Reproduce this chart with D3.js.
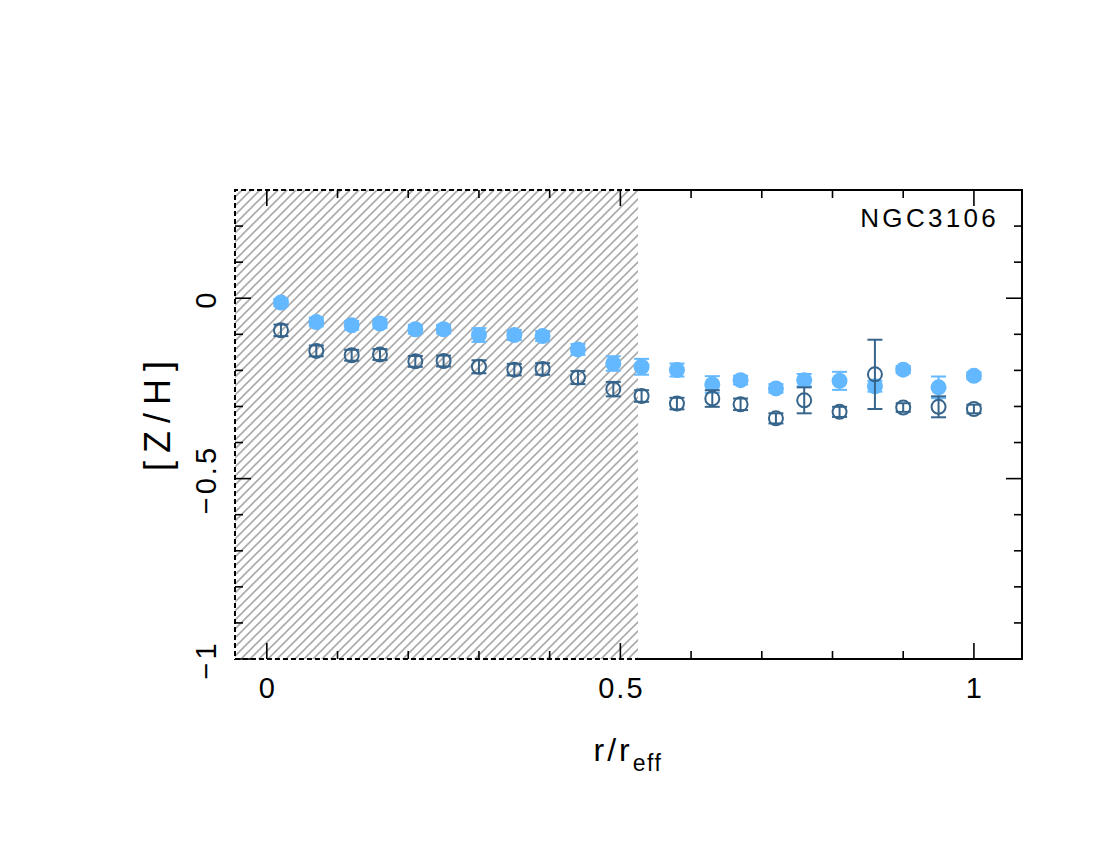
<!DOCTYPE html>
<html>
<head>
<meta charset="utf-8">
<script src="https://cdn.jsdelivr.net/npm/d3@7"></script>
<style>
  html, body { margin: 0; padding: 0; background: #fff; }
  svg { display: block; }
  text { font-family: "Liberation Sans", Arial, sans-serif; fill: #000; }
</style>
</head>
<body>
<svg id="chart" width="1100" height="850"></svg>
<script>
// ---- data ----
const radius = [0.02, 0.07, 0.12, 0.16, 0.21, 0.25, 0.30, 0.35, 0.39, 0.44, 0.49,
                0.53, 0.58, 0.63, 0.67, 0.72, 0.76, 0.81, 0.86, 0.90, 0.95, 1.00];
const zhFilled = [-0.012, -0.066, -0.075, -0.070, -0.086, -0.086, -0.102, -0.102, -0.105, -0.142, -0.181,
                  -0.190, -0.199, -0.239, -0.227, -0.250, -0.227, -0.229, -0.244, -0.198, -0.247, -0.215];
const errFilled = [0.010, 0.012, 0.012, 0.012, 0.012, 0.012, 0.019, 0.014, 0.014, 0.015, 0.020,
                   0.022, 0.018, 0.023, 0.012, 0.012, 0.017, 0.025, 0.015, 0.010, 0.030, 0.010];
const zhOpen = [-0.089, -0.146, -0.158, -0.156, -0.175, -0.174, -0.190, -0.198, -0.196, -0.220, -0.252,
                -0.271, -0.292, -0.278, -0.294, -0.333, -0.283, -0.315, -0.211, -0.303, -0.301, -0.307];
const errOpen = [0.016, 0.015, 0.015, 0.015, 0.015, 0.015, 0.018, 0.016, 0.016, 0.018, 0.020,
                 0.016, 0.016, 0.023, 0.016, 0.014, 0.036, 0.014, 0.096, 0.012, 0.029, 0.012];
const hatchLimit = 0.525;
const xTickLabels = [0, 0.5, 1];
const yTickLabels = [0, -0.5, -1];
const galaxyName = "NGC3106";

// ---- layout ----
const svg = d3.select("#chart");
const L = 235, R = 1022, T = 190, B = 659;
const x = d3.scaleLinear().domain([-0.045, 1.068]).range([L, R]);
const y = d3.scaleLinear().domain([-1, 0.3]).range([B, T]);

const cFilled = "#63b8ff", cOpen = "#36648b";

// hatch pattern
const defs = svg.append("defs");
const pat = defs.append("pattern").attr("id", "hatch").attr("patternUnits", "userSpaceOnUse")
  .attr("width", 9).attr("height", 9);
pat.append("path").attr("d", "M-2,2 L2,-2 M0,9 L9,0 M7,11 L11,7")
  .attr("stroke", "#aaaaaa").attr("stroke-width", 1.6);

// frame (solid part)
const xh = x(hatchLimit);
svg.append("path").attr("d", `M${xh},${T} L${R},${T} L${R},${B} L${xh},${B}`)
  .attr("fill", "none").attr("stroke", "#000").attr("stroke-width", 2);

// hatched region
svg.append("rect").attr("x", L).attr("y", T).attr("width", xh - L).attr("height", B - T)
  .attr("fill", "url(#hatch)");
svg.append("path").attr("d", `M${xh},${T} L${L},${T} L${L},${B} L${xh},${B}`)
  .attr("fill", "none").attr("stroke", "#000").attr("stroke-width", 2)
  .attr("stroke-dasharray", "5,3");

// ticks
const g = svg.append("g").attr("stroke", "#000").attr("stroke-width", 1.6);
const xt = d3.range(0, 11).map(i => i / 10);
xt.forEach(v => {
  const major = Math.abs(v * 2 - Math.round(v * 2)) < 1e-9;
  const len = major ? 16 : 8;
  g.append("line").attr("x1", x(v)).attr("x2", x(v)).attr("y1", B).attr("y2", B - len);
  g.append("line").attr("x1", x(v)).attr("x2", x(v)).attr("y1", T).attr("y2", T + len);
});
const yt = d3.range(-10, 3).map(i => i / 10);
yt.forEach(v => {
  const major = Math.abs(v * 2 - Math.round(v * 2)) < 1e-9;
  const len = major ? 16 : 8;
  g.append("line").attr("y1", y(v)).attr("y2", y(v)).attr("x1", L).attr("x2", L + len);
  g.append("line").attr("y1", y(v)).attr("y2", y(v)).attr("x1", R).attr("x2", R - len);
});

// tick labels
xTickLabels.forEach(v => {
  svg.append("text").attr("x", x(v) + 1).attr("y", 698).attr("text-anchor", "middle")
    .attr("font-size", 29).attr("letter-spacing", 2).text(String(v));
});
yTickLabels.forEach(v => {
  svg.append("text").attr("transform", `translate(216,${y(v) + 1}) rotate(-90)`)
    .attr("text-anchor", "middle").attr("font-size", 29).attr("letter-spacing", 3)
    .text(v === 0 ? "0" : "\u2212" + String(Math.abs(v)));
});

// axis labels
const xl = svg.append("text").attr("x", 628).attr("y", 761).attr("text-anchor", "middle").attr("font-size", 32)
  .attr("letter-spacing", 3);
xl.append("tspan").text("r/r");
xl.append("tspan").attr("dy", 10).attr("font-size", 23).attr("letter-spacing", 1.5).text("eff");
svg.append("text").attr("transform", `translate(170,412) rotate(-90)`)
  .attr("text-anchor", "middle").attr("font-size", 36).attr("letter-spacing", 8).text("[Z/H]");

svg.append("text").attr("x", 999).attr("y", 227).attr("text-anchor", "end")
  .attr("font-size", 26).attr("letter-spacing", 3.3).text(galaxyName);

// data markers
function drawSeries(vals, errs, color, filled) {
  const grp = svg.append("g");
  radius.forEach((r, i) => {
    const cx = x(r), cy = y(vals[i]);
    const y1 = y(vals[i] + errs[i]), y2 = y(vals[i] - errs[i]);
    if (filled) {
      grp.append("circle").attr("cx", cx).attr("cy", cy).attr("r", 8).attr("fill", color);
    }
    grp.append("line").attr("x1", cx).attr("x2", cx).attr("y1", y1).attr("y2", y2)
      .attr("stroke", color).attr("stroke-width", 2);
    [y1, y2].forEach(yy => grp.append("line").attr("x1", cx - 7.5).attr("x2", cx + 7.5)
      .attr("y1", yy).attr("y2", yy).attr("stroke", color).attr("stroke-width", 2));
    if (!filled) {
      grp.append("circle").attr("cx", cx).attr("cy", cy).attr("r", 7)
        .attr("fill", "none").attr("stroke", color).attr("stroke-width", 2);
    }
  });
}
drawSeries(zhFilled, errFilled, cFilled, true);
drawSeries(zhOpen, errOpen, cOpen, false);
</script>
</body>
</html>
